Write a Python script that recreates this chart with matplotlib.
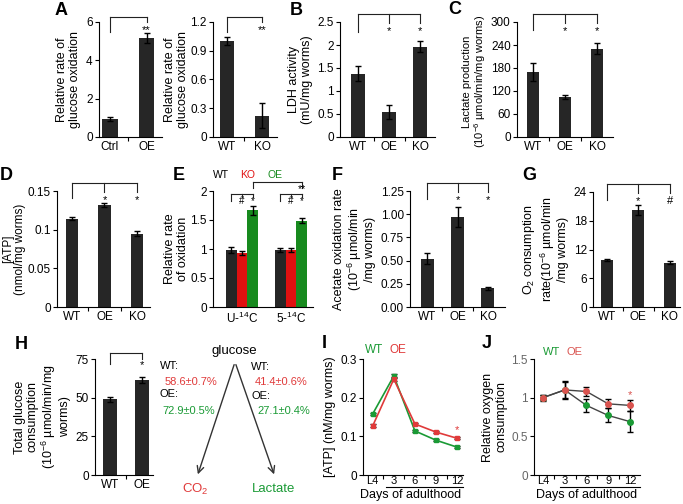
import numpy as np
import matplotlib.pyplot as plt
from matplotlib.transforms import blended_transform_factory
from matplotlib.patches import FancyArrowPatch

plt.rcParams['font.family'] = 'Liberation Sans'
plt.rcParams['mathtext.fontset'] = 'custom'
plt.rcParams['mathtext.rm'] = 'Liberation Sans'
plt.rcParams['mathtext.it'] = 'Liberation Sans:italic'

#%%%%%%%%%% Datos
# A: oxidacion de glucosa
A1_lab = ['Ctrl', 'OE']
A1_val = [0.95, 5.15]
A1_err = [0.10, 0.25]
A2_lab = ['WT', 'KO']
A2_val = [1.00, 0.22]
A2_err = [0.04, 0.13]

# B: actividad LDH
B_lab = ['WT', 'OE', 'KO']
B_val = [1.38, 0.54, 1.96]
B_err = [0.16, 0.15, 0.12]

# C: produccion de lactato
C_lab = ['WT', 'OE', 'KO']
C_val = [170, 105, 230]
C_err = [23, 5, 14]

# D: ATP
D_lab = ['WT', 'OE', 'KO']
D_val = [0.114, 0.132, 0.095]
D_err = [0.002, 0.003, 0.003]

# E: oxidacion relativa
E_groups = ['U-$^{14}$C', '5-$^{14}$C']
E_wt = [0.98, 0.98]
E_wt_err = [0.05, 0.03]
E_ko = [0.93, 0.98]
E_ko_err = [0.04, 0.04]
E_oe = [1.67, 1.49]
E_oe_err = [0.08, 0.05]

# F: oxidacion de acetato
F_lab = ['WT', 'OE', 'KO']
F_val = [0.52, 0.97, 0.20]
F_err = [0.06, 0.11, 0.02]

# G: consumo de O2
G_lab = ['WT', 'OE', 'KO']
G_val = [9.8, 20.2, 9.2]
G_err = [0.2, 1.1, 0.3]

# H: consumo total de glucosa
H_lab = ['WT', 'OE']
H_val = [49, 61.5]
H_err = [1.5, 2.0]

# I, J: curvas vs dias de adultez
days = ['L4', '3', '6', '9', '12']
I_wt = [0.158, 0.256, 0.114, 0.090, 0.072]
I_wt_err = [0.003, 0.004, 0.003, 0.002, 0.002]
I_oe = [0.127, 0.248, 0.132, 0.111, 0.095]
I_oe_err = [0.004, 0.005, 0.003, 0.002, 0.003]
J_wt = [1.00, 1.10, 0.90, 0.77, 0.69]
J_wt_err = [0.04, 0.12, 0.08, 0.09, 0.14]
J_oe = [1.00, 1.10, 1.08, 0.92, 0.90]
J_oe_err = [0.03, 0.10, 0.06, 0.06, 0.07]

DARK = '#262626'
RED = '#e01010'
GREEN = '#178a1e'
TRED = '#e03a3a'
TGREEN = '#1a9a35'
JRED = '#d9534f'

W, H = 683, 504
fig = plt.figure(figsize=(W/100, H/100), dpi=100)


def add_ax(x0, y0, x1, y1):
    # posicion en pixeles (origen arriba a la izquierda)
    ax = fig.add_axes([x0/W, 1 - y1/H, (x1 - x0)/W, (y1 - y0)/H])
    ax.spines['top'].set_visible(False)
    ax.spines['right'].set_visible(False)
    ax.spines['left'].set_linewidth(0.8)
    ax.spines['bottom'].set_linewidth(0.8)
    ax.tick_params(labelsize=8.5, length=3, width=0.8, pad=1.5)
    return ax


def bar_panel(ax, labels, vals, errs, xlim, ylim, yticks, yticklabels, width=0.42):
    x = np.arange(len(vals))
    ax.bar(x, vals, width=width, color=DARK, yerr=errs,
           error_kw=dict(ecolor='black', elinewidth=1, capsize=2.5, capthick=1))
    ax.set_xlim(xlim)
    ax.set_ylim(ylim)
    ax.set_yticks(yticks)
    ax.set_yticklabels(yticklabels)
    ax.set_xticks(x)
    ax.set_xticklabels(labels)
    ax.set_xticks(x[:-1] + 0.5, minor=True)
    ax.tick_params(axis='x', which='major', length=0, pad=3)
    ax.tick_params(axis='x', which='minor', length=3, width=0.8)


def bracket(ax, xs, marks, y_line, y_leg, y_tick, y_mark, fs=8):
    tr = blended_transform_factory(ax.transData, ax.transAxes)
    kw = dict(color='#222222', lw=0.8, transform=tr, clip_on=False)
    ax.plot([xs[0], xs[-1]], [y_line, y_line], **kw)
    ax.plot([xs[0], xs[0]], [y_line, y_leg], **kw)
    for xi, m in zip(xs[1:], marks):
        ax.plot([xi, xi], [y_line, y_tick], **kw)
        ax.text(xi, y_mark, m, transform=tr, ha='center', va='center', fontsize=fs)


#%%%%%%%%%% A
ax = add_ax(99, 22, 162, 137)
bar_panel(ax, A1_lab, A1_val, A1_err, (-0.3, 1.42), (0, 6), [0, 2, 4, 6], ['0', '2', '4', '6'])
ax.set_ylabel('Relative rate of\nglucose oxidation', fontsize=9, linespacing=1.05, labelpad=4)
bracket(ax, [0, 1], ['**'], 1.045, 0.91, 1.0, 0.93)

ax = add_ax(213, 22, 277, 137)
bar_panel(ax, A2_lab, A2_val, A2_err, (-0.4, 1.43), (0, 1.2), [0, 0.3, 0.6, 0.9, 1.2],
          ['0', '0.3', '0.6', '0.9', '1.2'])
ax.set_ylabel('Relative rate of\nglucose oxidation', fontsize=9, linespacing=1.05, labelpad=1)
bracket(ax, [0, 1], ['**'], 1.045, 0.91, 1.0, 0.93)

#%%%%%%%%%% B
ax = add_ax(340, 22, 435, 137)
bar_panel(ax, B_lab, B_val, B_err, (-0.58, 2.48), (0, 2.5), [0, 0.5, 1, 1.5, 2, 2.5],
          ['0', '0.5', '1', '1.5', '2', '2.5'], width=0.46)
ax.set_ylabel('LDH activity\n(mU/mg worms)', fontsize=9, linespacing=1.15, labelpad=3)
bracket(ax, [0, 1, 2], ['*', '*'], 1.07, 0.91, 0.99, 0.925)

#%%%%%%%%%% C
ax = add_ax(517, 22, 613, 137)
bar_panel(ax, C_lab, C_val, C_err, (-0.5, 2.5), (0, 300), [0, 60, 120, 180, 240, 300],
          ['0', '60', '120', '180', '240', '300'], width=0.38)
ax.set_ylabel('Lactate production\n(10$^{-6}$ µmol/min/mg worms)', fontsize=8, linespacing=1.05)
ax.yaxis.set_label_coords(-0.3, 0.48)
bracket(ax, [0, 1, 2], ['*', '*'], 1.07, 0.93, 0.99, 0.925)

#%%%%%%%%%% D
ax = add_ax(57, 191, 150, 307)
bar_panel(ax, D_lab, D_val, D_err, (-0.46, 2.4), (0, 0.15), [0, 0.05, 0.1, 0.15],
          ['0', '0.05', '0.1', '0.15'], width=0.38)
ax.set_ylabel('[ATP]\n(nmol/mg worms)', fontsize=8.5, linespacing=1.0, labelpad=1)
bracket(ax, [0, 1, 2], ['*', '*'], 1.07, 0.94, 0.99, 0.925)

#%%%%%%%%%% E
ax = add_ax(213, 191, 313, 307)
xg = np.arange(len(E_groups))
bw = 0.22
ekw = dict(ecolor='black', elinewidth=1, capsize=2.5, capthick=1)
ax.bar(xg - bw, E_wt, bw, color=DARK, yerr=E_wt_err, error_kw=ekw)
ax.bar(xg, E_ko, bw, color=RED, yerr=E_ko_err, error_kw=ekw)
ax.bar(xg + bw, E_oe, bw, color=GREEN, yerr=E_oe_err, error_kw=ekw)
ax.set_xlim(-0.59, 1.45)
ax.set_ylim(0, 2)
ax.set_yticks([0, 0.5, 1, 1.5, 2])
ax.set_yticklabels(['0', '0.5', '1', '1.5', '2'])
ax.set_xticks(xg)
ax.set_xticklabels(E_groups)
ax.tick_params(axis='x', length=0, pad=3)
ax.set_ylabel('Relative rate\nof oxidation', fontsize=9, linespacing=1.1, labelpad=1)
bracket(ax, [-bw, 0, bw], ['#', '*'], 0.974, 0.914, 0.95, 0.915, fs=7)
bracket(ax, [1 - bw, 1, 1 + bw], ['#', '*'], 0.974, 0.914, 0.95, 0.915, fs=7)
bracket(ax, [bw, 1 + bw], ['**'], 1.075, 1.03, 1.03, 1.015, fs=7.5)

#%%%%%%%%%% F
ax = add_ax(410, 191, 505, 307)
bar_panel(ax, F_lab, F_val, F_err, (-0.56, 2.56), (0, 1.25), [0, 0.25, 0.5, 0.75, 1.0, 1.25],
          ['0.00', '0.25', '0.50', '0.75', '1.00', '1.25'], width=0.43)
ax.set_ylabel('Acetate oxidation rate\n(10$^{-6}$ µmol/min\n/mg worms)', fontsize=9, linespacing=1.05, labelpad=3)
bracket(ax, [0, 1, 2], ['*', '*'], 1.07, 0.93, 0.99, 0.925)

#%%%%%%%%%% G
ax = add_ax(593, 192, 680, 307)
bar_panel(ax, G_lab, G_val, G_err, (-0.44, 2.32), (0, 24), [0, 6, 12, 18, 24],
          ['0', '6', '12', '18', '24'], width=0.38)
ax.set_ylabel('O$_2$ consumption\nrate(10$^{-6}$ µmol/min\n/mg worms)', fontsize=9, linespacing=1.1, labelpad=3)
bracket(ax, [0, 1, 2], ['*', '#'], 1.07, 0.93, 0.99, 0.925)

#%%%%%%%%%% H
ax = add_ax(95, 359, 153, 475)
bar_panel(ax, H_lab, H_val, H_err, (-0.47, 1.34), (0, 75), [0, 25, 50, 75],
          ['0', '25', '50', '75'], width=0.42)
ax.set_ylabel('Total glucose\nconsumption\n(10$^{-6}$ µmol/min/mg\nworms)', fontsize=9, linespacing=1.1, labelpad=3)
bracket(ax, [0, 1], ['*'], 1.05, 0.96, 1.0, 0.945)

#%%%%%%%%%% I
ax = add_ax(363, 359, 463, 475)
xd = np.arange(len(days))
ax.errorbar(xd, I_wt, yerr=I_wt_err, color=TGREEN, marker='s', ms=3, lw=1.2,
            ecolor='black', elinewidth=0.8, capsize=2)
ax.errorbar(xd, I_oe, yerr=I_oe_err, color=TRED, marker='s', ms=3, lw=1.2,
            ecolor='black', elinewidth=0.8, capsize=2)
ax.set_xlim(-0.46, 4.28)
ax.set_ylim(0, 0.3)
ax.set_yticks([0, 0.1, 0.2, 0.3])
ax.set_yticklabels(['0', '0.1', '0.2', '0.3'])
ax.set_xticks(xd)
ax.set_xticklabels(days)
ax.set_xticks(xd[:-1] + 0.5, minor=True)
ax.tick_params(axis='x', which='major', length=0, pad=1, labelsize=8)
ax.tick_params(axis='x', which='minor', length=3, width=0.8)
ax.set_ylabel('[ATP] (nM/mg worms)', fontsize=9, labelpad=3)
tr = blended_transform_factory(ax.transData, ax.transAxes)
ax.plot([0.63, 4.28], [-0.105, -0.105], color='black', lw=0.8, transform=tr, clip_on=False)
ax.text(0.48, -0.175, 'Days of adulthood', transform=ax.transAxes, ha='center', va='center', fontsize=9)
ax.text(4, 0.115, '*', color=TRED, ha='center', va='center', fontsize=8)
ax.text(0.02, 1.08, 'WT', color=TGREEN, transform=ax.transAxes, fontsize=8.5, va='center')
ax.text(0.27, 1.08, 'OE', color=TRED, transform=ax.transAxes, fontsize=8.5, va='center')

#%%%%%%%%%% J
ax = add_ax(534, 359, 640, 475)
ax.errorbar(xd, J_wt, yerr=J_wt_err, color='#444444', marker='o', ms=4, mfc=TGREEN, mec=TGREEN,
            lw=1, ecolor='black', elinewidth=1, capsize=2.5)
ax.errorbar(xd, J_oe, yerr=J_oe_err, color='#444444', marker='o', ms=4, mfc=JRED, mec=JRED,
            lw=1, ecolor='black', elinewidth=1, capsize=2.5)
ax.set_xlim(-0.41, 4.46)
ax.set_ylim(0, 1.5)
ax.set_yticks([0, 0.5, 1, 1.5])
ax.set_yticklabels(['0', '0.5', '1', '1.5'], color='#666666')
ax.set_xticks(xd)
ax.set_xticklabels(days)
ax.set_xticks(xd[:-1] + 0.5, minor=True)
ax.tick_params(axis='x', which='major', length=0, pad=1, labelsize=8)
ax.tick_params(axis='x', which='minor', length=3, width=0.8)
ax.set_ylabel('Relative oxygen\nconsumption', fontsize=9, linespacing=1.1, labelpad=3)
tr = blended_transform_factory(ax.transData, ax.transAxes)
ax.plot([0.78, 4.46], [-0.105, -0.105], color='black', lw=0.8, transform=tr, clip_on=False)
ax.text(0.5, -0.175, 'Days of adulthood', transform=ax.transAxes, ha='center', va='center', fontsize=9)
ax.text(4, 1.03, '*', color=JRED, ha='center', va='center', fontsize=8)
ax.text(0.08, 1.06, 'WT', color=TGREEN, transform=ax.transAxes, fontsize=8, va='center')
ax.text(0.31, 1.06, 'OE', color=JRED, transform=ax.transAxes, fontsize=8, va='center')

#%%%%%%%%%% Capa superior: letras, textos del diagrama y flechas
ov = fig.add_axes([0, 0, 1, 1])
ov.set_xlim(0, W)
ov.set_ylim(H, 0)
ov.axis('off')

letras = [('A', 55, 15), ('B', 290, 15), ('C', 448, 14), ('D', 0, 180), ('E', 173, 180),
          ('F', 332, 180), ('G', 522, 180), ('H', 15, 349), ('I', 322, 348), ('J', 482, 348)]
for t, x, y in letras:
    ov.text(x, y, t, fontsize=13, fontweight='bold', va='baseline', ha='left')

# encabezado del panel E
ov.text(213, 175, 'WT', fontsize=7.5, va='center')
ov.text(240, 175, 'KO', fontsize=7.5, va='center', color=RED)
ov.text(267, 175, 'OE', fontsize=7.5, va='center', color=GREEN)

# diagrama glucosa -> CO2 / lactato
ov.text(234, 351, 'glucose', fontsize=9.5, ha='center', va='center')
ov.add_patch(FancyArrowPatch((235, 362), (197, 477), arrowstyle='->', mutation_scale=12,
                             lw=1, color='#333333'))
ov.add_patch(FancyArrowPatch((235, 362), (275, 477), arrowstyle='->', mutation_scale=12,
                             lw=1, color='#333333'))
ov.text(160, 366, 'WT:', fontsize=8, va='center')
ov.text(217, 382, '58.6±0.7%', fontsize=8, va='center', ha='right', color=TRED)
ov.text(160, 394, 'OE:', fontsize=8, va='center')
ov.text(215, 411, '72.9±0.5%', fontsize=8, va='center', ha='right', color=TGREEN)
ov.text(251, 367, 'WT:', fontsize=8, va='center')
ov.text(255, 382, '41.4±0.6%', fontsize=8, va='center', color=TRED)
ov.text(251, 396, 'OE:', fontsize=8, va='center')
ov.text(257, 411, '27.1±0.4%', fontsize=8, va='center', color=TGREEN)
ov.text(195, 489, 'CO$_2$', fontsize=9.5, ha='center', va='center', color=TRED)
ov.text(274, 489, 'Lactate', fontsize=9.5, ha='center', va='center', color=TGREEN)

fig.savefig('out.png', dpi=100)
